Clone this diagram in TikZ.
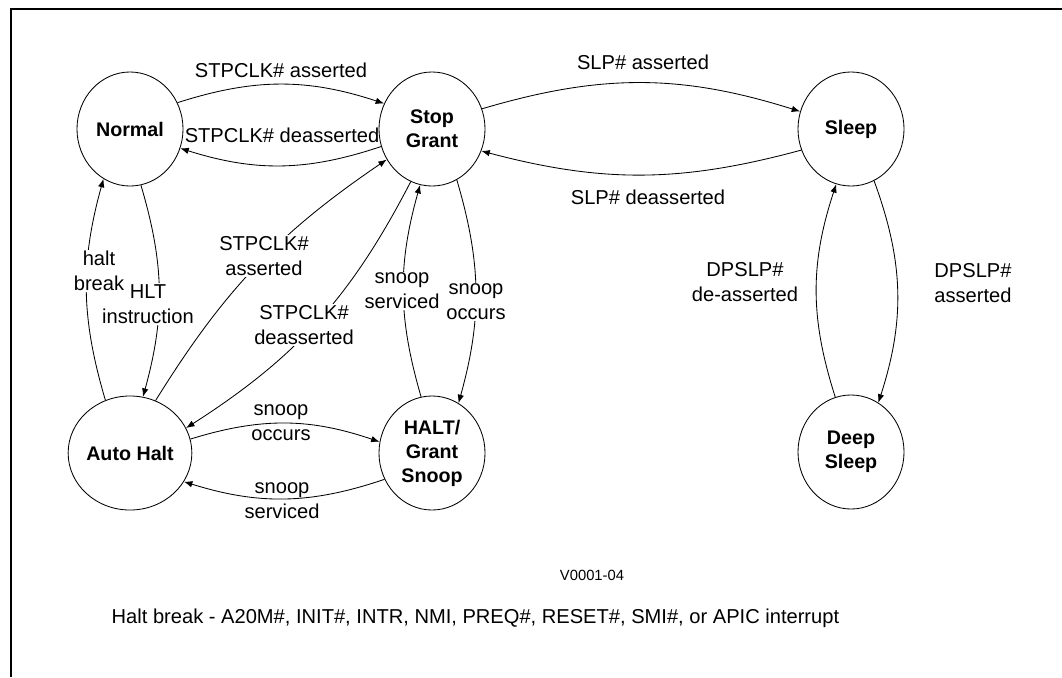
\documentclass[tikz,border=0pt]{standalone}
\usepackage{fontspec}
\setmainfont{Liberation Sans}
\usetikzlibrary{arrows.meta,shapes.geometric}
\begin{document}
\begin{tikzpicture}[
            x=0.025cm, y=0.025cm,
            state/.style={draw=black, line width=0.6pt, ellipse, minimum width=2.65cm, minimum height=2.85cm, inner sep=0pt, align=center, font=\fontsize{14}{17}\selectfont\bfseries},
            lbl/.style={align=center, inner sep=1pt, font=\fontsize{14.3}{17.8}\selectfont},
            cut/.style={lbl, fill=white},
            trans/.style={-{Latex[length=6pt, width=4.6pt]}, line width=0.6pt},
        ]
            \useasboundingbox (0, 0) rectangle (1062, -677);
            \draw[line width=1.4pt] (1062, -9) -- (11, -9) -- (11, -677);
            \node[state] (normal) at (130, -129) {Normal};
            \node[state] (stopgrant) at (432, -129) {Stop\\Grant};
            \node[state] (sleep) at (851, -129) {Sleep};
            \node[state] (autohalt) at (130, -453) {Auto Halt};
            \node[state] (haltsnoop) at (432, -453) {HALT/\\Grant\\Snoop};
            \node[state] (deepsleep) at (851, -452) {Deep\\Sleep};
            \path[trans] (normal.29) edge[bend left=18] (stopgrant.152);
            \path[trans] (stopgrant.199) edge[bend left=18] (normal.339);
            \path[trans] (stopgrant.22) edge[bend left=17] (sleep.161);
            \path[trans] (sleep.203) edge[bend left=15] (stopgrant.336);
            \path[trans] (normal.281) edge[bend left=16] (autohalt.77);
            \path[trans] (autohalt.115) edge[bend left=16] (normal.242);
            \path[trans] (autohalt.64) edge[bend left=12] (stopgrant.214);
            \path[trans] (stopgrant.248) edge[bend left=15] (autohalt.24);
            \path[trans] (haltsnoop.101) edge[bend left=16] (stopgrant.258);
            \path[trans] (stopgrant.296) edge[bend left=16] (haltsnoop.62);
            \path[trans] (autohalt.13) edge[bend left=18] (haltsnoop.168);
            \path[trans] (haltsnoop.209) edge[bend left=18] (autohalt.332);
            \path[trans] (sleep.294) edge[bend left=19] (deepsleep.61);
            \path[trans] (deepsleep.106) edge[bend left=18] (sleep.255);
            \node[lbl] (stpclkon) at (281, -70) {STPCLK\# asserted};
            \node[lbl] (stpclkoff) at (282, -135) {STPCLK\# deasserted};
            \node[lbl] (slpon) at (643, -62) {SLP\# asserted};
            \node[lbl] (slpoff) at (648, -197) {SLP\# deasserted};
            \node[cut] (hlt) at (148, -304) {HLT\\instruction};
            \node[cut] (haltbreak) at (99, -271) {halt\\break};
            \node[cut] (ahstpclkon) at (264, -256) {STPCLK\#\\asserted};
            \node[cut] (ahstpclkoff) at (304, -325) {STPCLK\#\\deasserted};
            \node[cut] (sgserviced) at (402, -291) {snoop\\serviced};
            \node[cut] (sgoccurs) at (476, -302) {snoop\\occurs};
            \node[lbl] (ahoccurs) at (281, -423) {snoop\\occurs};
            \node[lbl] (ahserviced) at (282, -501) {snoop\\serviced};
            \node[lbl] (dpslpoff) at (745, -282) {DPSLP\#\\de-asserted};
            \node[lbl] (dpslpon) at (973, -283) {DPSLP\#\\asserted};
            \node[font=\fontsize{10.5}{12}\selectfont] (figid) at (592, -575) {V0001-04};
            \node[lbl, anchor=west] (note) at (110, -618) {Halt break - A20M\#, INIT\#, INTR, NMI, PREQ\#, RESET\#, SMI\#, or APIC interrupt};
\end{tikzpicture}
\end{document}
